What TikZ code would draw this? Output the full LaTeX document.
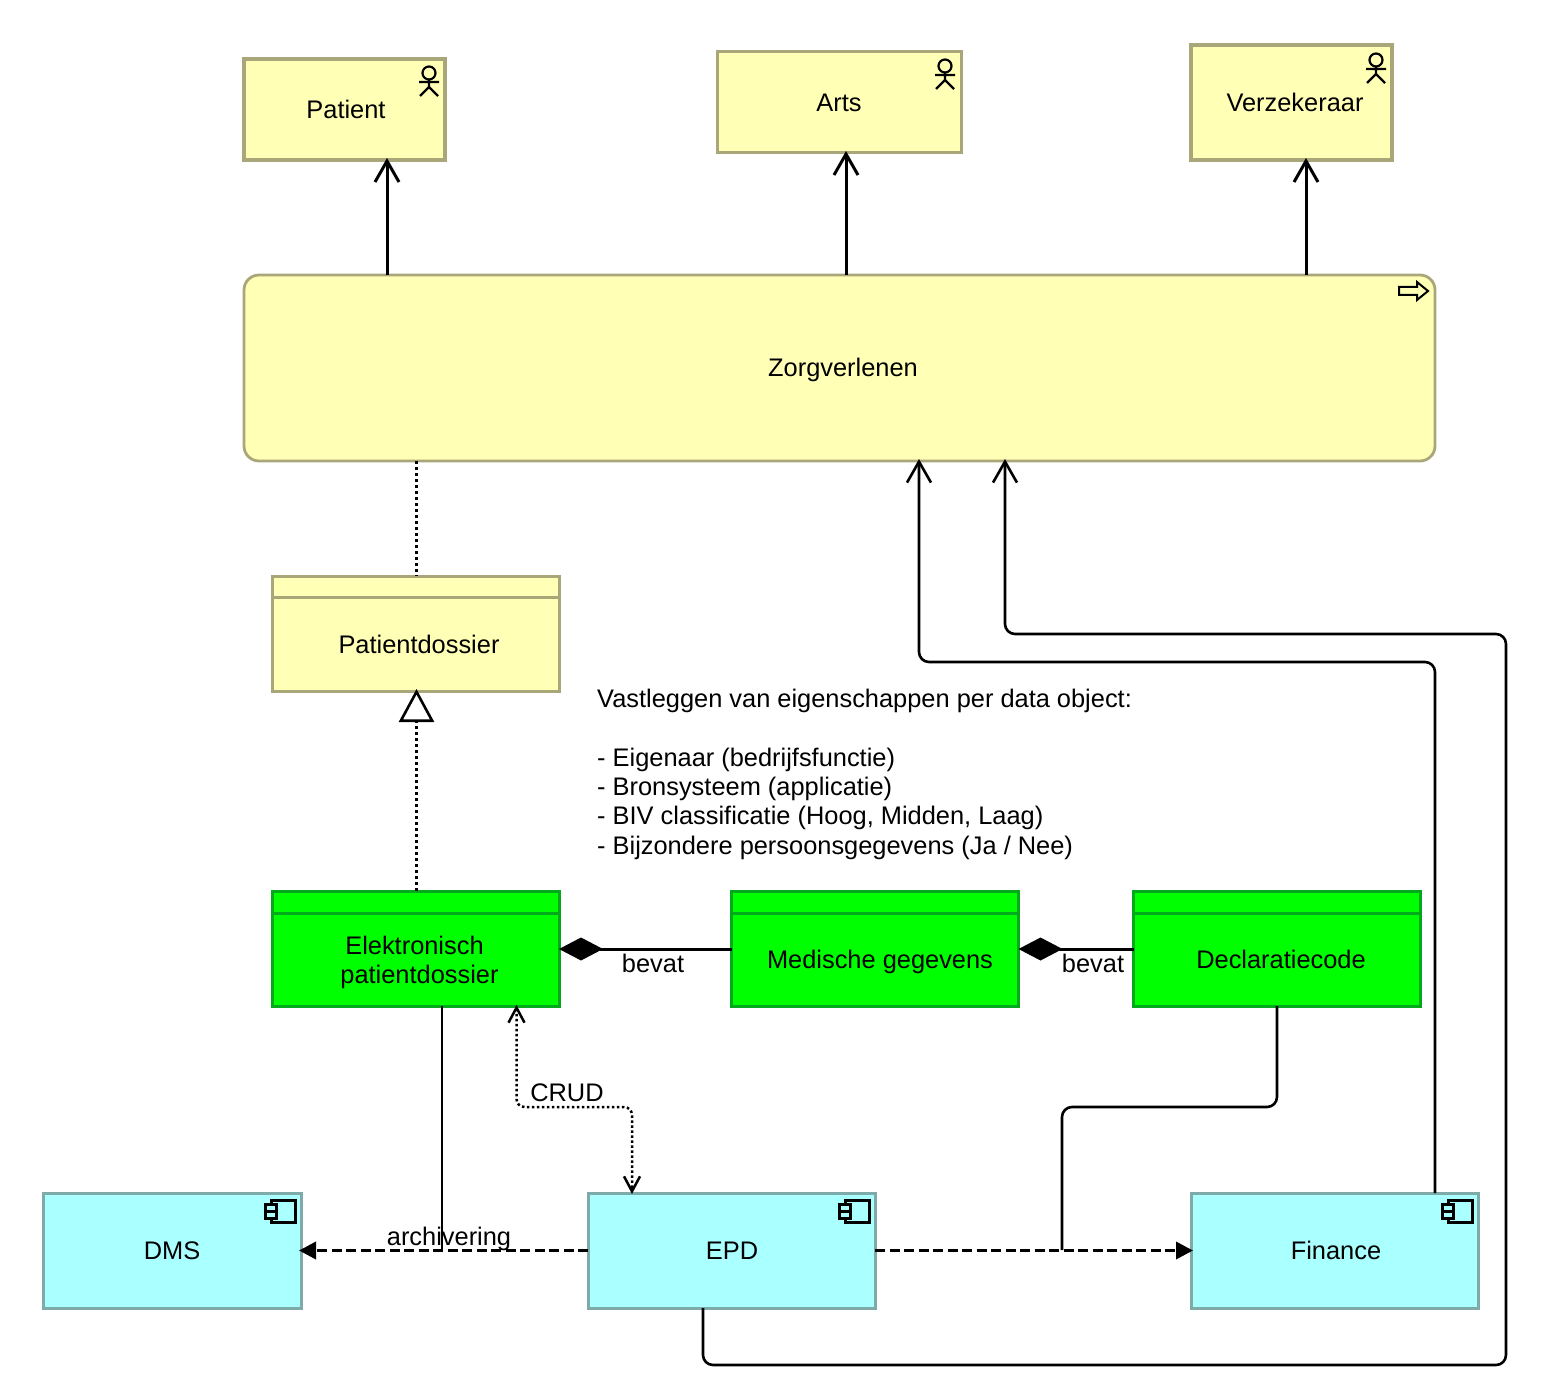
\documentclass[tikz,border=0pt]{standalone}
\usepackage{fontspec}
\setmainfont{Liberation Sans}
\usetikzlibrary{arrows.meta,positioning,calc}
\definecolor{bizfill}{HTML}{FFFFB5}
\definecolor{bizline}{HTML}{A9A77A}
\definecolor{datafill}{HTML}{00FF00}
\definecolor{dataline}{HTML}{00AA1A}
\definecolor{appfill}{HTML}{AAFFFF}
\definecolor{appline}{HTML}{7FAAAA}
\tikzset{
  box/.style={draw,line width=3pt,inner sep=0pt,outer sep=0pt,align=center,text depth=0pt,font=\fontsize{25.4}{29.3}\selectfont},
  bizbox/.style={box,fill=bizfill,draw=bizline},
  databox/.style={box,fill=datafill,draw=dataline},
  appbox/.style={box,fill=appfill,draw=appline,minimum width=287pt,minimum height=115pt},
  lbl/.style={inner sep=0pt,text depth=0pt,font=\fontsize{25.4}{29.3}\selectfont},
  flow/.style={line width=3pt,shorten >=-2pt,-{Straight Barb[length=21pt,width=24pt]}},
  wire/.style={line width=2.6pt,rounded corners=10pt},
  assign/.style={line width=3.5pt,dash pattern=on 3pt off 3pt},
  realize/.style={assign,shorten >=-2pt,-{Triangle[open,fill=white,length=33pt,width=35pt,line width=2.6pt]}},
  compose/.style={line width=3pt,-{Diamond[length=44pt,width=23pt]}},
  access/.style={line width=2.5pt,dash pattern=on 2.5pt off 2.5pt,rounded corners=8pt,shorten >=-1pt,shorten <=-1pt,
    {Straight Barb[length=15pt,width=16pt]}-{Straight Barb[length=15pt,width=16pt]}},
  serve/.style={line width=3.5pt,shorten >=-2pt,dash pattern=on 10pt off 4.5pt,-{Triangle[length=17pt,width=17pt]}},
  actor/.pic={
    \draw[line width=2.2pt] (0,0) circle (6.5);
    \draw[line width=2.2pt] (0,6.5) -- (0,14) (-10,9) -- (10,9) (-9,23) -- (0,14) -- (9,23);
  },
  comp/.pic={
    \draw[line width=2.4pt] (6,0) rectangle (30,22);
    \draw[line width=2.4pt,fill=appfill] (0,4) rectangle (11,10.5) (0,11.5) rectangle (11,18);
  },
}
\begin{document}
\begin{tikzpicture}[x=1pt,y=-1pt]
  \useasboundingbox (0,0) rectangle (1550,1396);

  % business layer
  \node[bizbox,line width=3.4pt,minimum width=201pt,minimum height=101pt] (patient) at (344.5,109.5) {\hspace*{3pt}Patient};
  \node[bizbox,minimum width=244pt,minimum height=101pt] (arts) at (839,102.5) {Arts};
  \node[bizbox,line width=3.4pt,minimum width=201pt,minimum height=115pt] (verzekeraar) at (1291.5,102.5) {\hspace*{7pt}Verzekeraar};
  \node[bizbox,line width=2.8pt,minimum width=1191pt,minimum height=186pt,rounded corners=15pt] (zorg) at (839.5,368) {\hspace*{7pt}\raisebox{1pt}{Zorgverlenen}};
  \pic at (429,73) {actor};
  \pic at (945,66) {actor};
  \pic at (1376,60) {actor};
  \draw[line width=2pt,fill=bizfill] (1399,287) -- (1417,287) -- (1417,282) -- (1428,291) -- (1417,300) -- (1417,295) -- (1399,295) -- cycle;

  \node[bizbox,minimum width=287pt,minimum height=21pt] (dossierhead) at (415.5,586.5) {};
  \node[bizbox,minimum width=287pt,minimum height=94pt] (dossier) at (415.5,644) {\hspace*{7pt}Patientdossier};

  % data objects
  \node[databox,minimum width=287pt,minimum height=22pt] (epdhead) at (415.5,902) {};
  \node[databox,minimum width=287pt,minimum height=93pt] (epdobject) at (415.5,959.5) {Elektronisch\hspace*{2pt}\\\hspace*{8pt}patientdossier};
  \node[databox,minimum width=287pt,minimum height=22pt] (medischehead) at (875,902) {};
  \node[databox,minimum width=287pt,minimum height=93pt] (medische) at (875,959.5) {\hspace*{10pt}Medische gegevens};
  \node[databox,minimum width=287pt,minimum height=22pt] (declaratiehead) at (1277,902) {};
  \node[databox,minimum width=287pt,minimum height=93pt] (declaratie) at (1277,959.5) {\hspace*{8pt}Declaratiecode};

  % applications
  \node[appbox,minimum width=258pt] (dms) at (172,1250.5) {DMS};
  \node[appbox] (epd) at (731.5,1250.5) {\hspace*{1pt}EPD};
  \node[appbox] (finance) at (1334.5,1250.5) {\hspace*{3pt}Finance};
  \pic at (265.5,1200.5) {comp};
  \pic at (839.5,1200.5) {comp};
  \pic at (1442.5,1200.5) {comp};

  \node[lbl,anchor=north west,align=left] (notes) at (597,689) {Vastleggen van eigenschappen per data object:\\[29.3pt]
    - Eigenaar (bedrijfsfunctie)\\
    - Bronsysteem (applicatie)\\
    - BIV classificatie (Hoog, Midden, Laag)\\
    - Bijzondere persoonsgegevens (Ja / Nee)};

  % connectors
  \draw[flow] (zorg.north -| 387,0) -- (patient.south -| 387,0);
  \draw[flow] (zorg.north -| 846,0) -- (arts.south -| 846,0);
  \draw[flow] (zorg.north -| 1306,0) -- (verzekeraar.south -| 1306,0);
  \draw[assign] (zorg.south -| 416.5,0) -- (dossierhead.north -| 416.5,0);
  \draw[realize] (epdhead.north -| 416.5,0) -- (dossier.south -| 416.5,0);
  \draw[compose] (medische.west |- 0,949) -- (epdobject.east |- 0,949);
  \draw[compose] (declaratie.west |- 0,949) -- (medische.east |- 0,949);
  \draw[access] (epdobject.south -| 516.5,0) -- (516.5,1107) -- (632,1107) -- (epd.north -| 632,0);
  \coordinate (archjoin) at (442,1250);
  \coordinate (financejoin) at (1062,1250);
  \draw[serve] (epd.west) -- (dms.east);
  \draw[serve] (epd.east) -- (finance.west);
  \draw[wire] (epdobject.south -| archjoin) -- (archjoin);
  \draw[wire] (declaratie.south) -- (1277,1107) -- (1062,1107) -- (financejoin);
  \draw[wire,shorten >=-2pt,-{Straight Barb[length=21pt,width=24pt]}] (finance.north -| 1435,0) -- (1435,662) -- (919,662) -- (zorg.south -| 919,0);
  \draw[wire,shorten >=-2pt,-{Straight Barb[length=21pt,width=24pt]}] (epd.south -| 703,0) -- (703,1365) -- (1506,1365) -- (1506,634) -- (1005,634) -- (zorg.south -| 1005,0);

  \node[lbl] (bevatleft) at (653,963) {bevat};
  \node[lbl] (bevatright) at (1093,963) {bevat};
  \node[lbl] (crud) at (567,1092.5) {CRUD};
  \node[lbl] (archivering) at (449,1236) {archivering};
\end{tikzpicture}
\end{document}
